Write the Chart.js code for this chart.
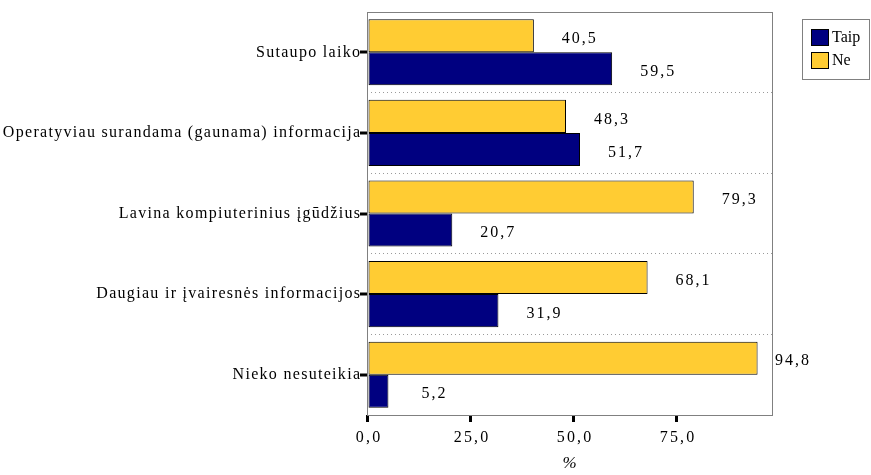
<!DOCTYPE html>
<html>
<head>
<meta charset="utf-8">
<script src="https://cdn.jsdelivr.net/npm/chart.js@4/dist/chart.umd.min.js"></script>
<style>
  html, body { margin: 0; padding: 0; background: #fff; }
  #wrap { width: 871px; height: 475px; }
</style>
</head>
<body>
<div id="wrap"><canvas id="chart" width="871" height="475"></canvas></div>
<script>
const categories = [
  'Sutaupo laiko',
  'Operatyviau surandama (gaunama) informacija',
  'Lavina kompiuterinius įgūdžius',
  'Daugiau ir įvairesnės informacijos',
  'Nieko nesuteikia'
];
const taip = [59.5, 51.7, 20.7, 31.9, 5.2];
const ne = [40.5, 48.3, 79.3, 68.1, 94.8];
const xTicks = [0, 25, 50, 75];

const NAVY = '#000080';
const YELLOW = '#FFCC33';
const SERIF = '"Liberation Serif", "Times New Roman", serif';
const FONT = '16px ' + SERIF;

const fmt = v => v.toFixed(1).replace('.', ',');

// draws text one glyph at a time so the letters can be spread apart
function spacedText(ctx, text, x, y, align, gap) {
  const chars = Array.from(text);
  const widths = chars.map(ch => ctx.measureText(ch).width);
  const total = widths.reduce((s, w) => s + w, 0) + gap * (chars.length - 1);
  let cx = align === 'right' ? x - total : align === 'center' ? x - total / 2 : x;
  ctx.textAlign = 'left';
  chars.forEach((ch, i) => {
    ctx.fillText(ch, cx, y);
    cx += widths[i] + gap;
  });
}

// gray frame round the plot + short tick marks at category centres
const frame = {
  id: 'frame',
  afterDatasetsDraw(chart) {
    const { ctx, chartArea: a } = chart;
    const y = chart.scales.y;
    ctx.save();
    ctx.strokeStyle = '#808080';
    ctx.lineWidth = 1;
    ctx.strokeRect(a.left + 0.5, a.top + 0.5, a.right - a.left, a.bottom - a.top);
    ctx.strokeStyle = '#000';
    ctx.lineWidth = 3;
    categories.forEach((c, i) => {
      const py = Math.round(y.getPixelForValue(i));
      ctx.beginPath();
      ctx.moveTo(a.left - 7, py);
      ctx.lineTo(a.left, py);
      ctx.stroke();
    });
    ctx.restore();
  }
};

// axis labels and value labels, all with the same loose spacing
const texts = {
  id: 'texts',
  afterDatasetsDraw(chart) {
    const { ctx, chartArea: a } = chart;
    const { x: xs, y: ys } = chart.scales;
    ctx.save();
    ctx.font = FONT;
    ctx.fillStyle = '#000';
    ctx.textBaseline = 'middle';

    categories.forEach((c, i) => {
      spacedText(ctx, c, a.left - 7, ys.getPixelForValue(i), 'right', 1.3);
    });
    xTicks.forEach(v => {
      spacedText(ctx, fmt(v), xs.getPixelForValue(v) + 1, a.bottom + 23, 'center', 2.2);
    });
    chart.data.datasets.forEach((ds, di) => {
      chart.getDatasetMeta(di).data.forEach((bar, i) => {
        const x = Math.min(bar.x + 45, a.right + 20);
        spacedText(ctx, fmt(ds.data[i]), x, bar.y + 3, 'center', 2);
      });
    });
    ctx.restore();
  }
};

// boxed legend at the top right
const boxLegend = {
  id: 'boxLegend',
  afterDraw(chart) {
    const ctx = chart.ctx;
    const items = [['Taip', NAVY], ['Ne', YELLOW]];
    ctx.save();
    ctx.fillStyle = '#fff';
    ctx.fillRect(802, 19, 67, 60);
    ctx.strokeStyle = '#808080';
    ctx.lineWidth = 1;
    ctx.strokeRect(802.5, 19.5, 67, 60);
    ctx.font = FONT;
    ctx.textBaseline = 'middle';
    ctx.textAlign = 'left';
    items.forEach(([label, color], i) => {
      const top = 29 + i * 23;
      ctx.fillStyle = color;
      ctx.fillRect(811, top, 18, 17);
      ctx.strokeStyle = '#000';
      ctx.strokeRect(811.5, top + 0.5, 17, 16);
      ctx.fillStyle = '#000';
      ctx.fillText(label, 832, top + 9);
    });
    ctx.restore();
  }
};

const ctx = document.getElementById('chart').getContext('2d');
new Chart(ctx, {
  type: 'bar',
  data: {
    labels: categories,
    datasets: [
      {
        label: 'Ne',
        data: ne,
        backgroundColor: YELLOW,
        borderColor: '#000',
        borderWidth: 1,
        borderSkipped: false,
      },
      {
        label: 'Taip',
        data: taip,
        backgroundColor: NAVY,
        borderColor: '#000',
        borderWidth: 1,
        borderSkipped: false,
      }
    ],
  },
  options: {
    indexAxis: 'y',
    responsive: false,
    animation: false,
    maintainAspectRatio: false,
    categoryPercentage: 0.82,
    barPercentage: 1.0,
    layout: { padding: { left: 0, right: 99, top: 12, bottom: 0 } },
    plugins: {
      legend: { display: false },
      tooltip: { enabled: false },
    },
    scales: {
      x: {
        min: 0,
        max: 98.3,
        afterBuildTicks: s => { s.ticks = xTicks.map(v => ({ value: v })); },
        afterFit: s => {
          s.height = 60;
          s.paddingLeft = s.paddingRight = 0;
        },
        grid: {
          drawOnChartArea: false,
          color: '#000',
          lineWidth: 3,
          tickLength: 7,
        },
        border: { display: false },
        ticks: { display: false },
        title: {
          display: true,
          text: '%',
          color: '#000',
          padding: { top: 0, bottom: 1 },
          font: { family: SERIF, size: 17, style: 'italic' },
        },
      },
      y: {
        afterFit: s => {
          s.width = 367;
          s.paddingTop = s.paddingBottom = 0;
        },
        grid: {
          offset: true,
          drawTicks: false,
          color: '#9a9a9a',
          lineWidth: 1,
        },
        border: { display: false, dash: [1, 3] },
        ticks: { display: false },
      },
    },
  },
  plugins: [frame, texts, boxLegend],
});
</script>
</body>
</html>
